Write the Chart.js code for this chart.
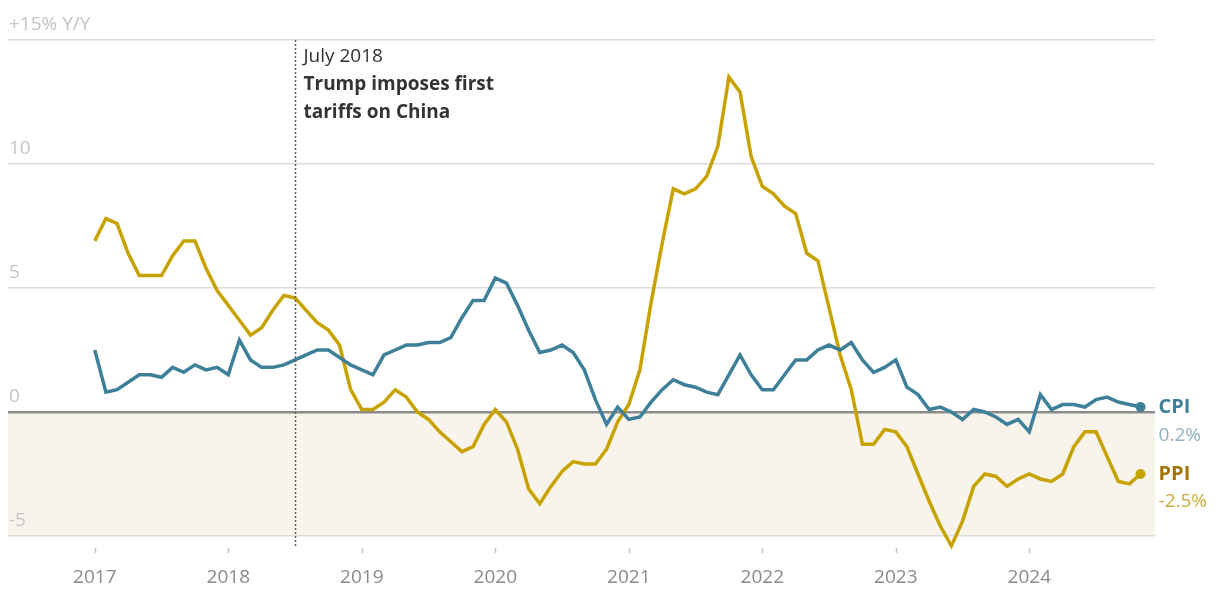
<!DOCTYPE html>
<html>
<head>
<meta charset="utf-8">
<script src="https://cdn.jsdelivr.net/npm/chart.js@4.4.1/dist/chart.umd.min.js"></script>
<style>
  html, body { margin: 0; padding: 0; background: #fff; }
  #wrap { width: 1222px; height: 591px; position: relative; }
</style>
</head>
<body>
<div id="wrap"><canvas id="chart_ctx"></canvas></div>
<script>
// monthly Y/Y, Jan 2017 .. Nov 2024
const startYear = 2017;
const yearTicks = ['2017', '2018', '2019', '2020', '2021', '2022', '2023', '2024'];
const cpi = [
  2.5, 0.8, 0.9, 1.2, 1.5, 1.5, 1.4, 1.8, 1.6, 1.9, 1.7, 1.8,
  1.5, 2.9, 2.1, 1.8, 1.8, 1.9, 2.1, 2.3, 2.5, 2.5, 2.2, 1.9,
  1.7, 1.5, 2.3, 2.5, 2.7, 2.7, 2.8, 2.8, 3.0, 3.8, 4.5, 4.5,
  5.4, 5.2, 4.3, 3.3, 2.4, 2.5, 2.7, 2.4, 1.7, 0.5, -0.5, 0.2,
  -0.3, -0.2, 0.4, 0.9, 1.3, 1.1, 1.0, 0.8, 0.7, 1.5, 2.3, 1.5,
  0.9, 0.9, 1.5, 2.1, 2.1, 2.5, 2.7, 2.5, 2.8, 2.1, 1.6, 1.8,
  2.1, 1.0, 0.7, 0.1, 0.2, 0.0, -0.3, 0.1, 0.0, -0.2, -0.5, -0.3,
  -0.8, 0.7, 0.1, 0.3, 0.3, 0.2, 0.5, 0.6, 0.4, 0.3, 0.2
];
const ppi = [
  6.9, 7.8, 7.6, 6.4, 5.5, 5.5, 5.5, 6.3, 6.9, 6.9, 5.8, 4.9,
  4.3, 3.7, 3.1, 3.4, 4.1, 4.7, 4.6, 4.1, 3.6, 3.3, 2.7, 0.9,
  0.1, 0.1, 0.4, 0.9, 0.6, 0.0, -0.3, -0.8, -1.2, -1.6, -1.4, -0.5,
  0.1, -0.4, -1.5, -3.1, -3.7, -3.0, -2.4, -2.0, -2.1, -2.1, -1.5, -0.4,
  0.3, 1.7, 4.4, 6.8, 9.0, 8.8, 9.0, 9.5, 10.7, 13.5, 12.9, 10.3,
  9.1, 8.8, 8.3, 8.0, 6.4, 6.1, 4.2, 2.3, 0.9, -1.3, -1.3, -0.7,
  -0.8, -1.4, -2.5, -3.6, -4.6, -5.4, -4.4, -3.0, -2.5, -2.6, -3.0, -2.7,
  -2.5, -2.7, -2.8, -2.5, -1.4, -0.8, -0.8, -1.8, -2.8, -2.9, -2.5
];
const eventMonth = 18; // July 2018
const eventText = ['July 2018', 'Trump imposes first', 'tariffs on China'];

const CPI_COLOR = '#3e7f99';
const PPI_COLOR = '#c8a300';
const FONT = '"Open Sans", "Noto Sans", sans-serif';

function toPoints(arr) {
  return arr.map(function (v, i) { return { x: i, y: v }; });
}
function lastDot(arr) {
  return function (c) { return c.dataIndex === arr.length - 1 ? 5 : 0; };
}

// shaded negative band, event marker, year ticks, end labels
const extras = {
  id: 'extras',
  beforeDraw(chart) {
    const { ctx, chartArea: a, scales: { x, y } } = chart;
    ctx.save();
    ctx.fillStyle = '#f8f4ec';
    ctx.fillRect(a.left, y.getPixelForValue(0), a.right - a.left, y.getPixelForValue(-5) - y.getPixelForValue(0));
    ctx.restore();
  },
  afterDraw(chart) {
    const { ctx, chartArea: a, scales: { x, y } } = chart;
    ctx.save();
    // year tick marks
    ctx.strokeStyle = '#c4c4c4';
    ctx.lineWidth = 1.5;
    yearTicks.forEach(function (t, i) {
      const px = Math.round(x.getPixelForValue(i * 12)) + 0.5;
      ctx.beginPath();
      ctx.moveTo(px, a.bottom + 12);
      ctx.lineTo(px, a.bottom + 17);
      ctx.stroke();
    });
    // event line
    const ex = Math.round(x.getPixelForValue(eventMonth)) + 0.5;
    ctx.strokeStyle = '#5f5f5f';
    ctx.lineWidth = 1.5;
    ctx.setLineDash([2, 2]);
    ctx.beginPath();
    ctx.moveTo(ex, a.top);
    ctx.lineTo(ex, a.bottom + 12);
    ctx.stroke();
    ctx.setLineDash([]);
    ctx.fillStyle = '#333';
    ctx.textBaseline = 'middle';
    ctx.textAlign = 'left';
    ctx.font = '400 19px ' + FONT;
    ctx.fillText(eventText[0], ex + 8, a.top + 17);
    ctx.font = '700 19px ' + FONT;
    ctx.fillText(eventText[1], ex + 8, a.top + 45);
    ctx.fillText(eventText[2], ex + 8, a.top + 73);
    // end labels
    const lx = x.getPixelForValue(cpi.length - 1) + 18;
    const cy = y.getPixelForValue(cpi[cpi.length - 1]);
    const py = y.getPixelForValue(ppi[ppi.length - 1]);
    ctx.font = '700 20px ' + FONT;
    ctx.fillStyle = CPI_COLOR;
    ctx.fillText('CPI', lx, cy);
    ctx.fillStyle = '#a3760a';
    ctx.fillText('PPI', lx, py);
    ctx.font = '400 19px ' + FONT;
    ctx.fillStyle = '#8fb1c2';
    ctx.fillText(cpi[cpi.length - 1].toFixed(1) + '%', lx, cy + 29);
    ctx.fillStyle = '#c9ac3c';
    ctx.fillText(ppi[ppi.length - 1].toFixed(1) + '%', lx, py + 28);
    ctx.restore();
  }
};

var ctx = document.getElementById('chart_ctx');
var myChart = new Chart(ctx, {
  type: 'line',
  data: {
    datasets: [{
      label: 'CPI',
      data: toPoints(cpi),
      borderColor: CPI_COLOR,
      backgroundColor: CPI_COLOR,
      borderWidth: 3.5,
      pointRadius: lastDot(cpi),
      pointBorderWidth: 0,
      tension: 0
    }, {
      label: 'PPI',
      data: toPoints(ppi),
      borderColor: PPI_COLOR,
      backgroundColor: PPI_COLOR,
      borderWidth: 3.5,
      pointRadius: lastDot(ppi),
      pointBorderWidth: 0,
      tension: 0
    }]
  },
  options: {
    animation: false,
    responsive: true,
    maintainAspectRatio: false,
    events: [],
    clip: false,
    layout: { padding: { left: 8, right: 67, top: 40, bottom: 0 } },
    plugins: { legend: { display: false }, tooltip: { enabled: false } },
    scales: {
      x: {
        type: 'linear',
        min: -7.8,
        max: 95.3,
        grid: { display: false, drawTicks: false },
        border: { display: false },
        afterBuildTicks: function (s) {
          s.ticks = yearTicks.map(function (t, i) { return { value: i * 12 }; });
        },
        afterFit: function (s) { s.height = 55; },
        ticks: {
          autoSkip: false,
          maxRotation: 0,
          padding: 30,
          color: '#8a8a8a',
          font: { family: FONT, size: 19 },
          callback: function (v) { return String(startYear + v / 12); }
        }
      },
      y: {
        min: -5,
        max: 15,
        afterFit: function (s) { s.width = 0; },
        border: { display: false },
        grid: {
          drawTicks: false,
          color: function (c) { return c.tick.value === 0 ? '#8c8c8c' : '#dcdcdc'; },
          lineWidth: function (c) { return c.tick.value === 0 ? 2.5 : 1.5; }
        },
        ticks: {
          stepSize: 5,
          mirror: true,
          padding: 1,
          labelOffset: -15,
          color: '#c4c4c4',
          font: { family: FONT, size: 19 },
          callback: function (v) { return v === 15 ? '+15% Y/Y' : String(v); }
        }
      }
    }
  },
  plugins: [extras]
});
</script>
</body>
</html>
